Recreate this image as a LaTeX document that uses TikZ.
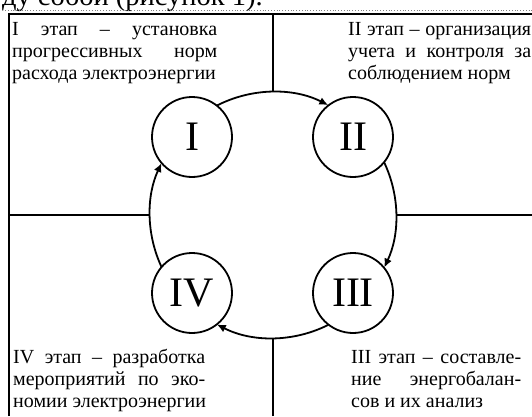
\documentclass[tikz,border=0pt]{standalone}
\usepackage{fontspec}
\setmainfont{Liberation Serif}
\usetikzlibrary{arrows.meta}
\newcommand{\jst}[2]{\hbox to #1{\spaceskip=.25em plus 1fil\relax #2}}
\begin{document}
\begin{tikzpicture}[x=1pt,y=1pt,
  frame/.style={line width=2.6pt},
  sep/.style={line width=1.8pt},
  stage/.style={circle,draw,line width=1.8pt,minimum size=80pt,inner sep=0pt,font=\fontsize{42}{42}\selectfont},
  flow/.style={line width=1.8pt,-{Latex[length=9pt,width=8pt]}},
  txt/.style={inner sep=0pt,anchor=base west,font=\fontsize{20}{22}\selectfont}]
\useasboundingbox (0,0) rectangle (532,416);
\clip (0,0) rectangle (532,416);
% partial text above
\node[inner sep=0pt,anchor=base east,font=\fontsize{28.5}{28.5}\selectfont] (head) at (263,410) {ду собой (рисунок 1).};
\draw[gray,line width=0.8pt,dotted] (5,406) -- (532,406);
% frame
\coordinate (TL) at (9,402);
\coordinate (TR) at (532,402);
\coordinate (BL) at (9,0);
\draw[frame] (BL) -- (TL) -- (TR);
% center
\coordinate (O) at (273,201);
% circles
\node[stage] (I) at (192,279) {I};
\node[stage] (II) at (353,279) {II};
\node[stage] (III) at (353,123) {III};
\node[stage] (IV) at (192,123) {IV};
% separators
\coordinate (ct) at (273,402);
\coordinate (cb) at (273,0);
\coordinate (cl) at (9,201);
\coordinate (cr) at (532,201);
\draw[sep] (ct) -- ([shift={(90:123)}]O);
\draw[sep] (cb) -- ([shift={(270:123)}]O);
\draw[sep] (cl) -- ([shift={(180:123)}]O);
\draw[sep] (cr) -- ([shift={(0:123)}]O);
% cycle arcs
\draw[flow] ([shift={(117.2:123)}]O) arc[start angle=117.2,end angle=63.3,radius=123];
\draw[flow] ([shift={(25.3:123)}]O) arc[start angle=25.3,end angle=-25.3,radius=123];
\draw[flow] ([shift={(-63.3:123)}]O) arc[start angle=-63.3,end angle=-117.2,radius=123];
\draw[flow] ([shift={(205:123)}]O) arc[start angle=205,end angle=155,radius=123];
% texts
\node[txt] (t1) at (12,380) {\vtop{\jst{205pt}{I этап – установка}\jst{205pt}{прогрессивных норм}\hbox{расхода электроэнергии}}};
\node[txt] (t2) at (348,380) {\vtop{\jst{183pt}{II этап – организация}\jst{183pt}{учета и контроля за}\hbox{соблюдением норм}}};
\node[txt] (t4) at (13,53) {\vtop{\jst{192pt}{IV этап – разработка}\jst{192pt}{мероприятий по эко-}\hbox{номии электроэнергии}}};
\node[txt] (t3) at (351,53) {\vtop{\jst{170pt}{III этап – составле-}\jst{170pt}{ние энергобалан-}\hbox{сов и их анализ}}};
\end{tikzpicture}
\end{document}
